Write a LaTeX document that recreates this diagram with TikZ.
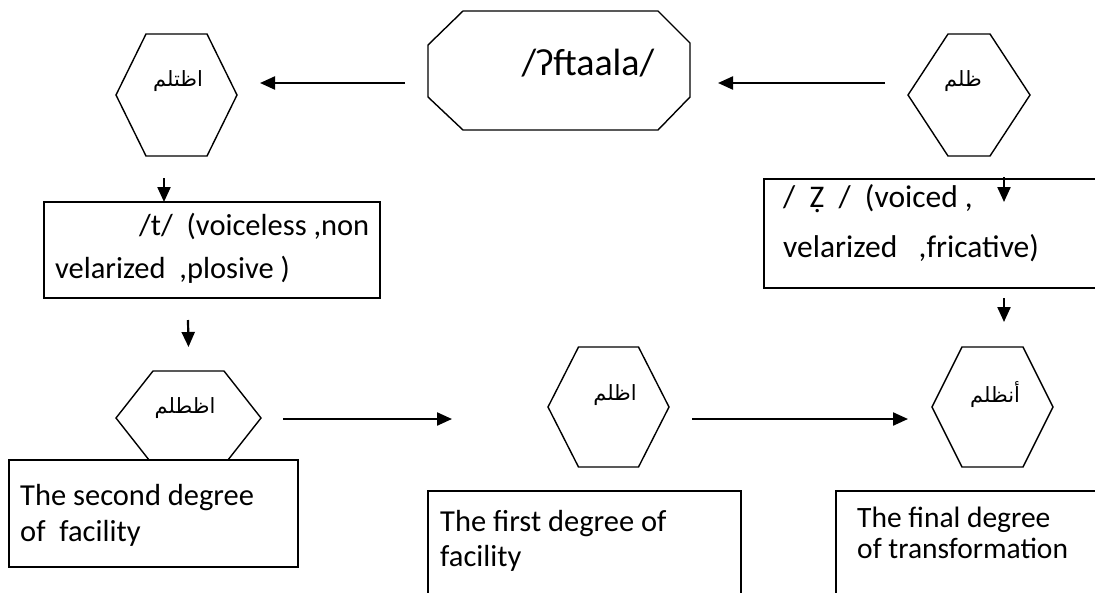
\documentclass[tikz,border=0pt]{standalone}
\usepackage{fontspec}
\setmainfont{Carlito}
\newfontfamily\arabicfont[Script=Arabic]{DejaVu Sans}
\TeXXeTstate=1
\usetikzlibrary{arrows.meta,calc}

\tikzset{
  holder/.style={draw=none,inner sep=0pt,outer sep=0pt},
  edge/.style={line width=1.4pt,line join=miter},
  boxst/.style={draw,fill=white,line width=1.5pt,inner sep=0pt,outer sep=0pt},
  arr/.style={line width=2.2pt,-{Triangle[length=15pt,width=13pt]}},
  txt/.style={inner sep=0pt,font=\fontsize{30.5}{36}\selectfont},
  artxt/.style={inner sep=0pt,font=\fontsize{21}{24}\selectfont\arabicfont}
}
% hexagon round a holder node: #1 name, #2 half length of the flat top
\newcommand\hexline[2]{%
  \draw[edge] (#1.west) -- ($(#1.north)+(-#2,0)$) -- ($(#1.north)+(#2,0)$) -- (#1.east)
    -- ($(#1.south)+(#2,0)$) -- ($(#1.south)+(-#2,0)$) -- cycle;}

\begin{document}
\begin{tikzpicture}[x=1pt,y=-1pt]
\useasboundingbox (0,0) rectangle (1095,592);
\clip (0,0) rectangle (1095,592);

% top row
\node[holder,minimum width=262pt,minimum height=119pt] (oct) at (559,70.5) {};
\draw[edge] ($(oct.north west)+(35,0)$) -- ($(oct.north east)+(-32,0)$) -- ($(oct.north east)+(0,32)$)
  -- ($(oct.south east)+(0,-33)$) -- ($(oct.south east)+(-32,0)$) -- ($(oct.south west)+(35,0)$)
  -- ($(oct.south west)+(0,-33)$) -- ($(oct.north west)+(0,34)$) -- cycle;
\node[txt,font=\fontsize{38}{40}\selectfont] (octtext) at ($(oct)+(29,-7.5)$) {/ʔftaala/};

\node[holder,minimum width=121pt,minimum height=122pt] (h1) at (176.5,95) {};
\hexline{h1}{30.5}
\node[artxt] (h1text) at ($(h1)+(1.5,-14)$) {\beginR اظتلم\endR};

\node[holder,minimum width=122pt,minimum height=122pt] (h2) at (969,95) {};
\hexline{h2}{21}
\node[artxt] (h2text) at ($(h2)+(-6,-14)$) {\beginR ظلم\endR};

% middle boxes
\node[boxst,minimum width=336pt,minimum height=96pt] (b1) at (212,250) {};
\node[txt,align=left,anchor=west,font=\fontsize{30.5}{43}\selectfont] (b1text) at ($(b1.west)+(11,-1.5)$)
  {\hspace*{84pt}/t/\ \ (voiceless ,non\\velarized\ \ ,plosive )};

\node[boxst,minimum width=346pt,minimum height=109pt] (b2) at (937,233.5) {};
\node[txt,align=left,anchor=west,font=\fontsize{31.5}{50}\selectfont] (b2text) at ($(b2.west)+(19,-10)$)
  {/\ \ Ẓ\ \ /\ \ (voiced ,\\velarized\ \ \ ,fricative)};

% bottom row
\node[holder,minimum width=145pt,minimum height=94pt] (h3) at (188.5,418) {};
\hexline{h3}{35.5}
\node[artxt] (h3text) at ($(h3)+(-3.5,-10)$) {\beginR اظطلم\endR};

\node[holder,minimum width=121pt,minimum height=120pt] (h4) at (608.5,407) {};
\hexline{h4}{30}
\node[artxt] (h4text) at ($(h4)+(6.5,-12)$) {\beginR اظلم\endR};

\node[holder,minimum width=121pt,minimum height=120pt] (h5) at (992.5,407) {};
\hexline{h5}{30.5}
\node[artxt] (h5text) at ($(h5)+(2.5,-12)$) {\beginR أنظلم\endR};

\node[boxst,minimum width=289pt,minimum height=107pt] (b3) at (153.5,513.5) {};
\node[txt,align=left,anchor=west] (b3text) at ($(b3.west)+(11,1.5)$) {The second degree\\of\ \ facility};

\node[boxst,minimum width=313pt,minimum height=129pt] (b4) at (584.5,555.5) {};
\node[txt,align=left,anchor=west,font=\fontsize{30.5}{35}\selectfont] (b4text) at ($(b4.north west)+(12,49.5)$)
  {The first degree of\\facility};

\node[boxst,minimum width=274pt,minimum height=129pt] (b5) at (973,555.5) {};
\node[txt,align=left,anchor=west,font=\fontsize{29.5}{31}\selectfont] (b5text) at ($(b5.north west)+(21,41.5)$)
  {The final degree\\of transformation};

% connectors
\draw[arr] ($(oct.west)+(-23,12.5)$) -- ($(h1.east)+(23,-12)$);
\draw[arr] ($(h2.west)+(-23,-12)$) -- ($(oct.east)+(28,12.5)$);
\draw[arr] ($(h1.south)+(-12.5,22)$) -- ($(b1.north)+(-48,0)$);
\draw[arr] ($(b1.south)+(-24,22)$) -- ($(h3.north)+(0,-24)$);
\draw[arr] ($(h2.south)+(35,21)$) -- ($(b2.north)+(67,23)$);
\draw[arr] ($(b2.south)+(67,10)$) -- ($(h5.north)+(11.5,-25)$);
\draw[arr] ($(h3.east)+(22,1)$) -- ($(h4.west)+(-96,12)$);
\draw[arr] ($(h4.east)+(23,12)$) -- ($(h5.west)+(-24,12)$);
\end{tikzpicture}
\end{document}
